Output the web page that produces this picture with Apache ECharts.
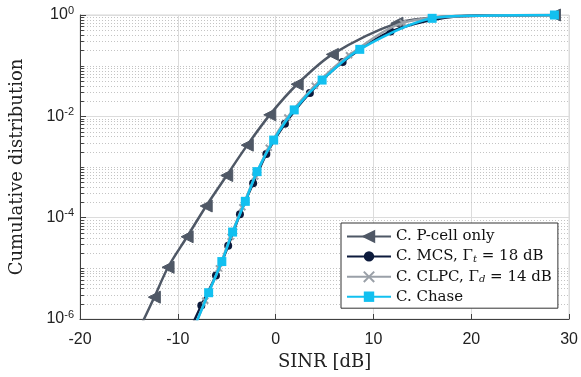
<!DOCTYPE html>
<html><head><meta charset="utf-8">
<script src="https://cdn.jsdelivr.net/npm/echarts@6/dist/echarts.min.js"></script>
<style>html,body{margin:0;padding:0;background:#fff}#c{width:581px;height:377px}</style>
</head><body><div id="c"></div>
<script>
// ---- data ----
const xTickValues = [-20, -10, 0, 10, 20, 30];
const yTickExponents = [-6, -4, -2, 0];

const pcellX = [-14.0, -12.4, -11.0, -9.05, -7.1, -5.0, -2.9, -0.6, 2.2, 5.8, 12.4, 17.0, 21.0, 28.5];
const pcellY = [6e-7, 2.7e-6, 1.05e-5, 4.2e-5, 1.7e-4, 6.8e-4, 2.7e-3, 1.07e-2, 4.3e-2, 0.167, 0.69, 0.92, 0.98, 1.0];
const pcellMarker = [0, 1, 1, 1, 1, 1, 1, 1, 1, 1, 1, 0, 0, 1];

const mcsX = [-9.2, -7.6, -6.1, -4.85, -3.65, -2.3, -0.95, 0.95, 3.5, 6.85, 11.75, 19.0, 28.5];
const mcsY = [4e-7, 1.85e-6, 7.2e-6, 2.8e-5, 1.17e-4, 4.8e-4, 1.8e-3, 7.1e-3, 2.9e-2, 0.118, 0.47, 0.95, 1.0];
const mcsMarker = [0, 1, 1, 1, 1, 1, 1, 1, 1, 1, 1, 0, 1];

const clpcX = [-8.6, -7.2, -5.8, -4.6, -3.4, -2.1, -0.7, 1.2, 4.0, 7.5, 13.0, 21.0, 28.5];
const clpcY = [5e-7, 2.3e-6, 1.0e-5, 4.2e-5, 1.6e-4, 6.5e-4, 2.4e-3, 9.5e-3, 4.0e-2, 0.16, 0.7, 0.97, 1.0];
const clpcMarker = [0, 1, 1, 1, 1, 1, 1, 1, 1, 1, 1, 0, 1];

const chaseX = [-8.6, -6.85, -5.5, -4.4, -3.1, -1.9, -0.2, 1.9, 4.75, 8.6, 16.0, 21.0, 28.5];
const chaseY = [5e-7, 3.3e-6, 1.36e-5, 5.2e-5, 2.1e-4, 8.1e-4, 3.4e-3, 1.34e-2, 5.2e-2, 0.21, 0.86, 0.97, 1.0];
const chaseMarker = [0, 1, 1, 1, 1, 1, 1, 1, 1, 1, 1, 0, 1];

const seriesNames = ['C. P-cell only', 'C. MCS, Γt = 18 dB', 'C. CLPC, Γd = 14 dB', 'C. Chase'];

// ---- helpers ----
function pts(xs, ys, mk) {
  return xs.map((x, i) => mk[i] ? [x, ys[i]] : { value: [x, ys[i]], symbol: 'none' });
}
// minor log grid values (2..9 x 10^n, plus the unlabeled decades)
const minorVals = [];
for (let e = -6; e <= -1; e++) {
  for (let k = 2; k <= 9; k++) minorVals.push(k * Math.pow(10, e));
}
[-5, -3, -1].forEach(e => minorVals.push(Math.pow(10, e)));

const chart = echarts.init(document.getElementById('c'), null, { renderer: 'canvas' });
const axisCol = '#404040';
const serif = '"DejaVu Serif", "Liberation Serif", serif';
const sans = '"Liberation Sans", Arial, sans-serif';
const X_MIN = -20, X_MAX = 30;

const legendRich = {
  n: { fontFamily: serif, fontSize: 15, color: '#111', lineHeight: 16 },
  sub: { fontFamily: serif, fontSize: 10, fontStyle: 'italic', color: '#111', lineHeight: 10, padding: [6, 0, 0, 0] }
};

const option = {
  animation: false,
  grid: { left: 77, right: 9, top: 15, bottom: 58, show: true, borderColor: '#d6d6d6', borderWidth: 1 },
  xAxis: {
    type: 'value', min: X_MIN, max: X_MAX, interval: 10,
    name: 'SINR [dB]', nameLocation: 'middle', nameGap: 34,
    nameTextStyle: { fontFamily: serif, fontSize: 18, color: '#222' },
    axisLine: { onZero: false, lineStyle: { color: axisCol, width: 1 } },
    axisTick: { inside: true, length: 5, lineStyle: { color: axisCol } },
    axisLabel: { fontFamily: sans, fontSize: 16, color: '#222', margin: 13,
      formatter: v => xTickValues.includes(v) ? String(v) : '' },
    splitLine: { show: true, lineStyle: { color: '#dcdcdc', width: 1 } }
  },
  yAxis: {
    type: 'log', logBase: 100, min: 1e-6, max: 1,
    name: 'Cumulative distribution', nameLocation: 'middle', nameGap: 54, nameRotate: 90,
    nameTextStyle: { fontFamily: serif, fontSize: 18, color: '#222' },
    axisLine: { show: true, onZero: false, lineStyle: { color: axisCol, width: 1 } },
    axisTick: { inside: true, length: 6, lineStyle: { color: axisCol } },
    axisLabel: {
      margin: 6,
      formatter: v => {
        const e = Math.round(Math.log10(v));
        return yTickExponents.includes(e) ? '{b|10}{s|' + e + '}' : '';
      },
      rich: {
        b: { fontFamily: sans, fontSize: 16, color: '#222' },
        s: { fontFamily: sans, fontSize: 11, color: '#222', padding: [0, 0, 9, 0] }
      }
    },
    splitLine: { show: true, lineStyle: { color: '#dcdcdc', width: 1 } }
  },
  legend: {
    orient: 'vertical', left: 341, top: 223,
    padding: [6, 6, 4, 5], itemGap: 4.4,
    itemWidth: 44, itemHeight: 13,
    backgroundColor: '#fff', borderColor: '#333', borderWidth: 1, borderRadius: 0,
    data: seriesNames,
    formatter: name => {
      if (name.indexOf('MCS') >= 0) return '{n|C. MCS, Γ}{sub|t}{n| = 18 dB}';
      if (name.indexOf('CLPC') >= 0) return '{n|C. CLPC, Γ}{sub|d}{n| = 14 dB}';
      return '{n|' + name + '}';
    },
    textStyle: { rich: legendRich }
  },
  series: [
    {
      // minor log grid lines and minor ticks, positioned through the axes
      type: 'custom', silent: true, z: 0,
      data: minorVals.map(v => [X_MIN, v]),
      encode: { x: 0, y: 1 },
      renderItem: (params, api) => {
        const v = api.value(1);
        const a = api.coord([X_MIN, v]);
        const b = api.coord([X_MAX, v]);
        const t = api.coord([X_MIN + 0.4, v]);
        const y = Math.round(a[1]) + 0.5;
        return {
          type: 'group', children: [
            { type: 'line', shape: { x1: a[0] + 1, y1: y, x2: b[0] - 1, y2: y },
              style: { stroke: '#c4c4c4', lineDash: [1, 2], lineWidth: 1 } },
            { type: 'line', shape: { x1: a[0], y1: y, x2: t[0], y2: y },
              style: { stroke: axisCol, lineWidth: 1 } }
          ]
        };
      }
    },
    {
      name: seriesNames[0], type: 'line', smooth: 0.3, clip: true,
      data: pts(pcellX, pcellY, pcellMarker),
      symbol: 'triangle', symbolRotate: 90, symbolSize: 12,
      lineStyle: { color: '#4f5866', width: 2.5 },
      itemStyle: { color: '#4f5866', borderColor: '#4f5866', borderWidth: 1 },
      z: 3
    },
    {
      name: seriesNames[1], type: 'line', smooth: 0.3, clip: true,
      data: pts(mcsX, mcsY, mcsMarker),
      symbol: 'circle', symbolSize: 8,
      lineStyle: { color: '#0c1a3c', width: 2.5 },
      itemStyle: { color: '#0c1a3c' },
      z: 4
    },
    {
      name: seriesNames[2], type: 'line', smooth: 0.3, clip: true,
      data: pts(clpcX, clpcY, clpcMarker),
      symbol: 'path://M0,0L10,10M10,0L0,10', symbolSize: 6,
      lineStyle: { color: '#9aa0a8', width: 2.5 },
      itemStyle: { color: '#9aa0a8', borderColor: '#9aa0a8', borderWidth: 2 },
      z: 5
    },
    {
      name: seriesNames[3], type: 'line', smooth: 0.3, clip: true,
      data: pts(chaseX, chaseY, chaseMarker),
      symbol: 'rect', symbolSize: 9,
      lineStyle: { color: '#12c0f0', width: 2.5 },
      itemStyle: { color: '#12c0f0' },
      z: 6
    }
  ]
};
chart.setOption(option);
</script>
</body></html>
